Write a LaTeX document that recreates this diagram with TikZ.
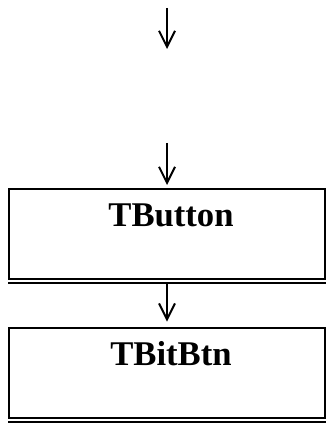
\documentclass[tikz,border=0pt]{standalone}
\usepackage{fontspec}
\setmainfont{Liberation Serif}
\usetikzlibrary{arrows.meta}
\usetikzlibrary{positioning}

\tikzset{
  classbox/.style={draw, line width=1.5pt, minimum width=237pt, minimum height=67.5pt, inner sep=0pt},
  classname/.style={anchor=base, font=\bfseries\fontsize{26}{30}\selectfont},
  inherit/.style={line width=1.5pt, -{Straight Barb[length=12pt,width=12pt,line width=1.5pt]}}
}

\begin{document}
\begin{tikzpicture}[x=0.75pt,y=-0.75pt]
\useasboundingbox (0,0) rectangle (330,427);

\coordinate (A0) at (167,8);
\coordinate (A1) at (167,49);
\coordinate (B0) at (167,143);
\coordinate (B1) at (167,185);

\node[classbox] (TButton) at (167,234) {};
\node[classbox] (TBitBtn) at (167,373) {};

\node[classname] (LButton) at (171,227) {TButton};
\node[classname] (LBitBtn) at (171,365) {TBitBtn};

\draw[line width=1.5pt] ([yshift=-2.6pt]TButton.south west) -- ([yshift=-2.6pt]TButton.south east);
\draw[line width=1.5pt] ([yshift=-2.6pt]TBitBtn.south west) -- ([yshift=-2.6pt]TBitBtn.south east);

\draw[inherit] (A0) -- (A1);
\draw[inherit] (B0) -- (B1);
\draw[inherit] ([yshift=-2.6pt]TButton.south) -- ([yshift=4pt]TBitBtn.north);

\end{tikzpicture}
\end{document}
